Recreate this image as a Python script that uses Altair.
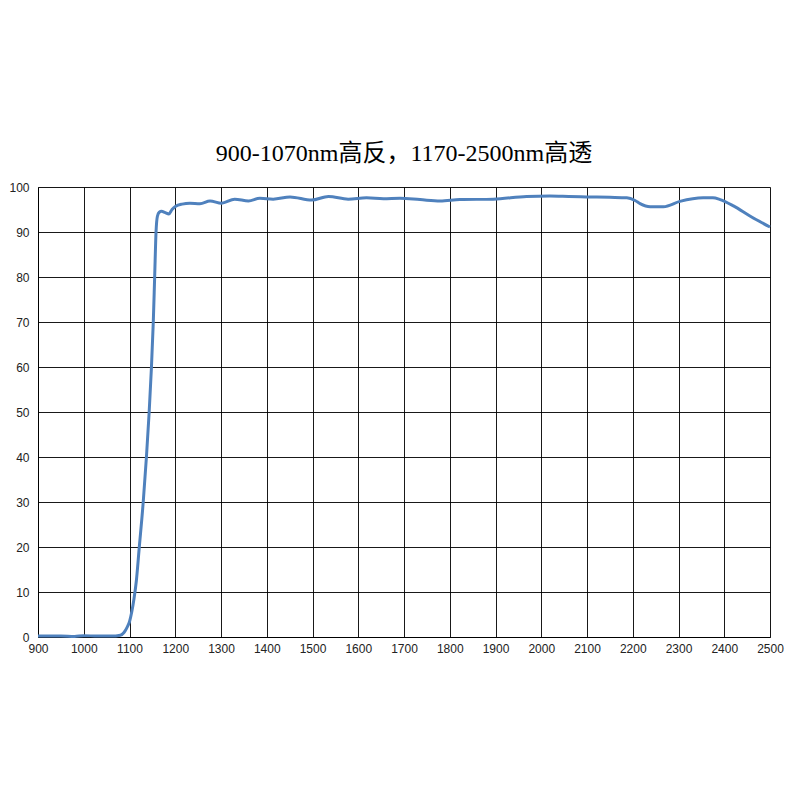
import altair as alt
import pandas as pd

wavelength = [900, 950, 980, 1000, 1030, 1060, 1080, 1088, 1095, 1100, 1105, 1110, 1115,
              1121, 1130, 1137, 1143, 1148, 1152, 1155, 1158, 1161, 1165, 1170, 1178, 1186,
              1193, 1201, 1215, 1232, 1254, 1276, 1301, 1330, 1360, 1385, 1414, 1451, 1498,
              1535, 1578, 1618, 1655, 1691, 1735, 1779, 1822, 1895, 1968, 2019, 2060, 2099,
              2150, 2187, 2205, 2216, 2238, 2267, 2303, 2354, 2375, 2391, 2420, 2457, 2500]
transmittance = [0.2, 0.2, 0.1, 0.3, 0.2, 0.2, 0.4, 1.0, 2.2, 3.4, 5.6, 8.6, 12.5,
                 19.5, 30, 40, 50, 60, 70, 80, 90, 93.5, 94.4, 94.6, 94.3, 94.0,
                 95.0, 95.7, 96.2, 96.4, 96.3, 96.9, 96.4, 97.3, 96.9, 97.5, 97.3, 97.8, 97.1,
                 97.9, 97.3, 97.6, 97.4, 97.5, 97.2, 96.9, 97.2, 97.3, 97.9, 98.0, 97.9, 97.8,
                 97.7, 97.6, 97.0, 96.3, 95.6, 95.6, 96.8, 97.6, 97.6, 97.2, 95.8, 93.5, 91.1]
x_ticks = list(range(900, 2501, 100))
y_ticks = list(range(0, 101, 10))
title_text = "900-1070nm高反，1170-2500nm高透"

df = pd.DataFrame({"wl": wavelength, "t": transmittance})

chart = alt.Chart(df).mark_line(
    color="#4F81BD", strokeWidth=3, interpolate="monotone"
).encode(
    x=alt.X("wl:Q", scale=alt.Scale(domain=[900, 2500], nice=False, zero=False),
            axis=alt.Axis(values=x_ticks, format="d", title=None, ticks=False, labelPadding=6,
                          grid=True, gridColor="#000000", gridWidth=1, gridOpacity=0.9,
                          domainColor="#000000", labelFont="Liberation Sans",
                          labelFontSize=12, labelColor="#222222", labelFlush=False)),
    y=alt.Y("t:Q", scale=alt.Scale(domain=[0, 100], nice=False),
            axis=alt.Axis(values=y_ticks, format="d", title=None, ticks=False, labelPadding=9,
                          grid=True, gridColor="#000000", gridWidth=1, gridOpacity=0.9,
                          domainColor="#000000", labelFont="Liberation Sans",
                          labelFontSize=12, labelColor="#222222", labelFlush=False)),
).properties(
    width=732,
    height=450,
    title=alt.TitleParams(title_text, font="Liberation Serif, Noto Sans CJK SC",
                          fontSize=24, fontWeight="normal", color="#000000",
                          anchor="middle", offset=15),
    autosize=alt.AutoSizeParams(type="none"),
    padding={"left": 30, "top": 179, "right": 22, "bottom": 150},
).configure_view(
    stroke="#000000", strokeWidth=1
).configure(background="#ffffff")

chart.save("out.html", embed_options={"renderer": "svg", "actions": False})
